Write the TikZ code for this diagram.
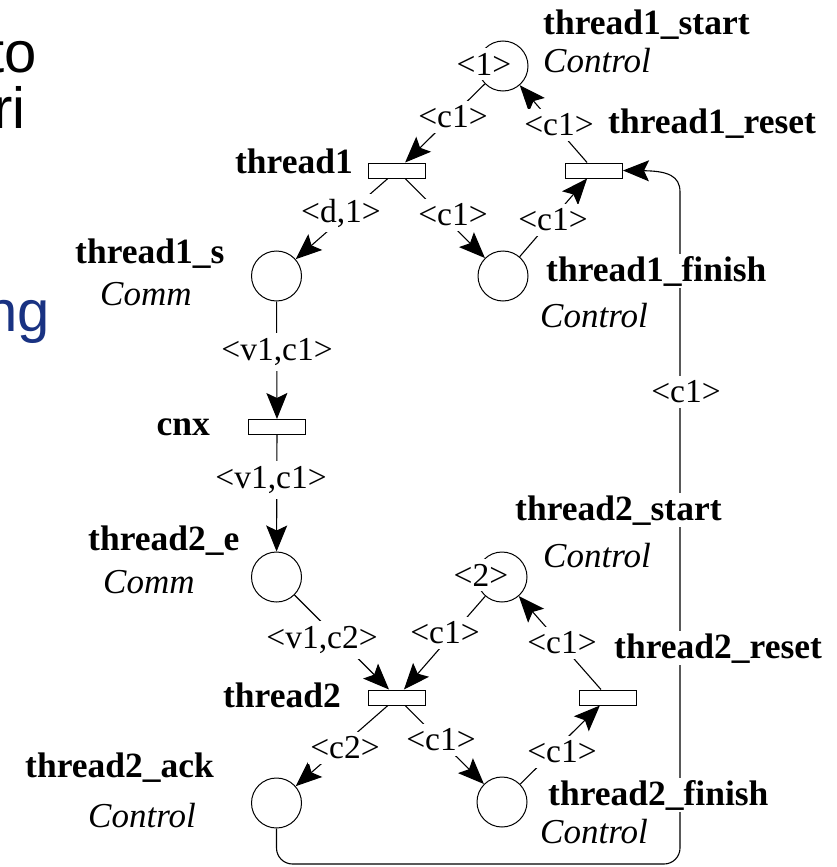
\documentclass[tikz,border=0pt]{standalone}
\usepackage{fontspec}
\setmainfont{Liberation Serif}
\newfontfamily\slidefont{Liberation Sans}
\usetikzlibrary{arrows.meta}
\definecolor{slideblue}{RGB}{25,50,130}
\begin{document}
\begin{tikzpicture}[x=1pt,y=-1pt,
  place/.style={circle, draw, line width=1pt, minimum size=50pt, inner sep=0pt},
  trans/.style={rectangle, draw, line width=1pt, minimum width=57pt, minimum height=15pt, inner sep=0pt, fill=white},
  arc/.style={line width=1.1pt, -{Stealth[length=26pt,width=21pt,inset=5pt]}},
  lbl/.style={fill=white, inner xsep=2pt, inner ysep=5pt, font=\fontsize{33.5}{36}\selectfont},
  pname/.style={fill=white, inner xsep=1pt, inner ysep=2pt, font=\fontsize{35.5}{40}\selectfont\bfseries},
  ptype/.style={inner sep=0pt, font=\fontsize{35}{40}\selectfont\itshape},
  frag/.style={inner sep=0pt, font=\fontsize{58}{60}\slidefont},
]
\useasboundingbox (0,0) rectangle (837,867);

% slide text running in from the left
\node[frag, anchor=base east] (fragA) at (37,72) {to};
\node[frag, anchor=base east] (fragB) at (26,128) {ri};
\node[frag, anchor=base east, text=slideblue] (fragC) at (50,331) {ng};

% places
\node[place] (t1start)  at (503,66) {};
\node[place] (t1s)      at (276.5,276) {};
\node[place] (t1finish) at (503,276) {};
\node[place] (t2e)      at (276.5,577) {};
\node[place] (t2start)  at (502,577) {};
\node[place] (t2ack)    at (276.5,803) {};
\node[place] (t2finish) at (502,802) {};

% transitions
\node[trans] (thread1) at (397,170.5) {};
\node[trans] (t1reset) at (594,170.5) {};
\node[trans] (cnx)     at (277,427) {};
\node[trans] (thread2) at (397,697.5) {};
\node[trans] (t2reset) at (608,697.5) {};

% arcs
\draw[arc] (t1start) -- (thread1);
\draw[arc] (thread1) -- (t1s);
\draw[arc] (thread1) -- (t1finish);
\draw[arc] (t1finish) -- (t1reset);
\draw[arc] (t1reset) -- (t1start);
\draw[arc] (t1s) -- (cnx);
\draw[arc] (cnx) -- (t2e);
\draw[arc] (t2e) -- (thread2);
\draw[arc] (t2start) -- (thread2);
\draw[arc] (thread2) -- (t2ack);
\draw[arc] (thread2) -- (t2finish);
\draw[arc] (t2finish) -- (t2reset);
\draw[arc] (t2reset) -- (t2start);
\draw[arc] (t2ack.south) [rounded corners=16pt] -- (276.5,864) -- (680,864) -- (680,208)
  [sharp corners] .. controls (680,176) and (668,171) .. (t1reset.east);

% arc inscriptions
\node[lbl] (m1)  at (484,64)  {<1>};
\node[lbl] (m2)  at (481,575) {<2>};
\node[lbl] (a1)  at (453,117) {<c1>};
\node[lbl] (a2)  at (341,213) {<d,1>};
\node[lbl] (a3)  at (453,215) {<c1>};
\node[lbl] (a4)  at (553,220) {<c1>};
\node[lbl] (a5)  at (559,125) {<c1>};
\node[lbl] (a6)  at (277,352) {<v1,c1>};
\node[lbl] (a7)  at (271,480) {<v1,c1>};
\node[lbl] (a8)  at (322,640) {<v1,c2>};
\node[lbl] (a9)  at (445,633) {<c1>};
\node[lbl] (a10) at (345,748) {<c2>};
\node[lbl] (a11) at (441,740) {<c1>};
\node[lbl] (a12) at (562,752) {<c1>};
\node[lbl] (a13) at (562,643) {<c1>};
\node[lbl] (a14) at (686,392) {<c1>};

% place and transition names
\node[pname, anchor=base west] (n1)  at (542,35)  {thread1\_start};
\node[ptype, anchor=base west] (ty1) at (543,72)  {Control};
\node[pname, anchor=base west] (n2)  at (607,133) {thread1\_reset};
\node[pname, anchor=base east] (n3)  at (354,173) {thread1};
\node[pname, anchor=base west] (n4)  at (74,263)  {thread1\_s};
\node[ptype, anchor=base west] (ty4) at (100,305) {Comm};
\node[pname, anchor=base west] (n5)  at (545,281) {thread1\_finish};
\node[ptype, anchor=base west] (ty5) at (540,327) {Control};
\node[pname, anchor=base east] (n6)  at (211,435) {cnx};
\node[pname, anchor=base west] (n7)  at (87,550)  {thread2\_e};
\node[ptype, anchor=base west] (ty7) at (103,593) {Comm};
\node[pname, anchor=base west] (n8)  at (514,520) {thread2\_start};
\node[ptype, anchor=base west] (ty8) at (543,567) {Control};
\node[pname, anchor=base west] (n9)  at (613,658) {thread2\_reset};
\node[pname, anchor=base east] (n10) at (342,707) {thread2};
\node[pname, anchor=base west] (n11) at (24,777)  {thread2\_ack};
\node[ptype, anchor=base west] (ty11) at (88,827) {Control};
\node[pname, anchor=base west] (n12) at (547,805) {thread2\_finish};
\node[ptype, anchor=base west] (ty12) at (540,843) {Control};
\end{tikzpicture}
\end{document}
